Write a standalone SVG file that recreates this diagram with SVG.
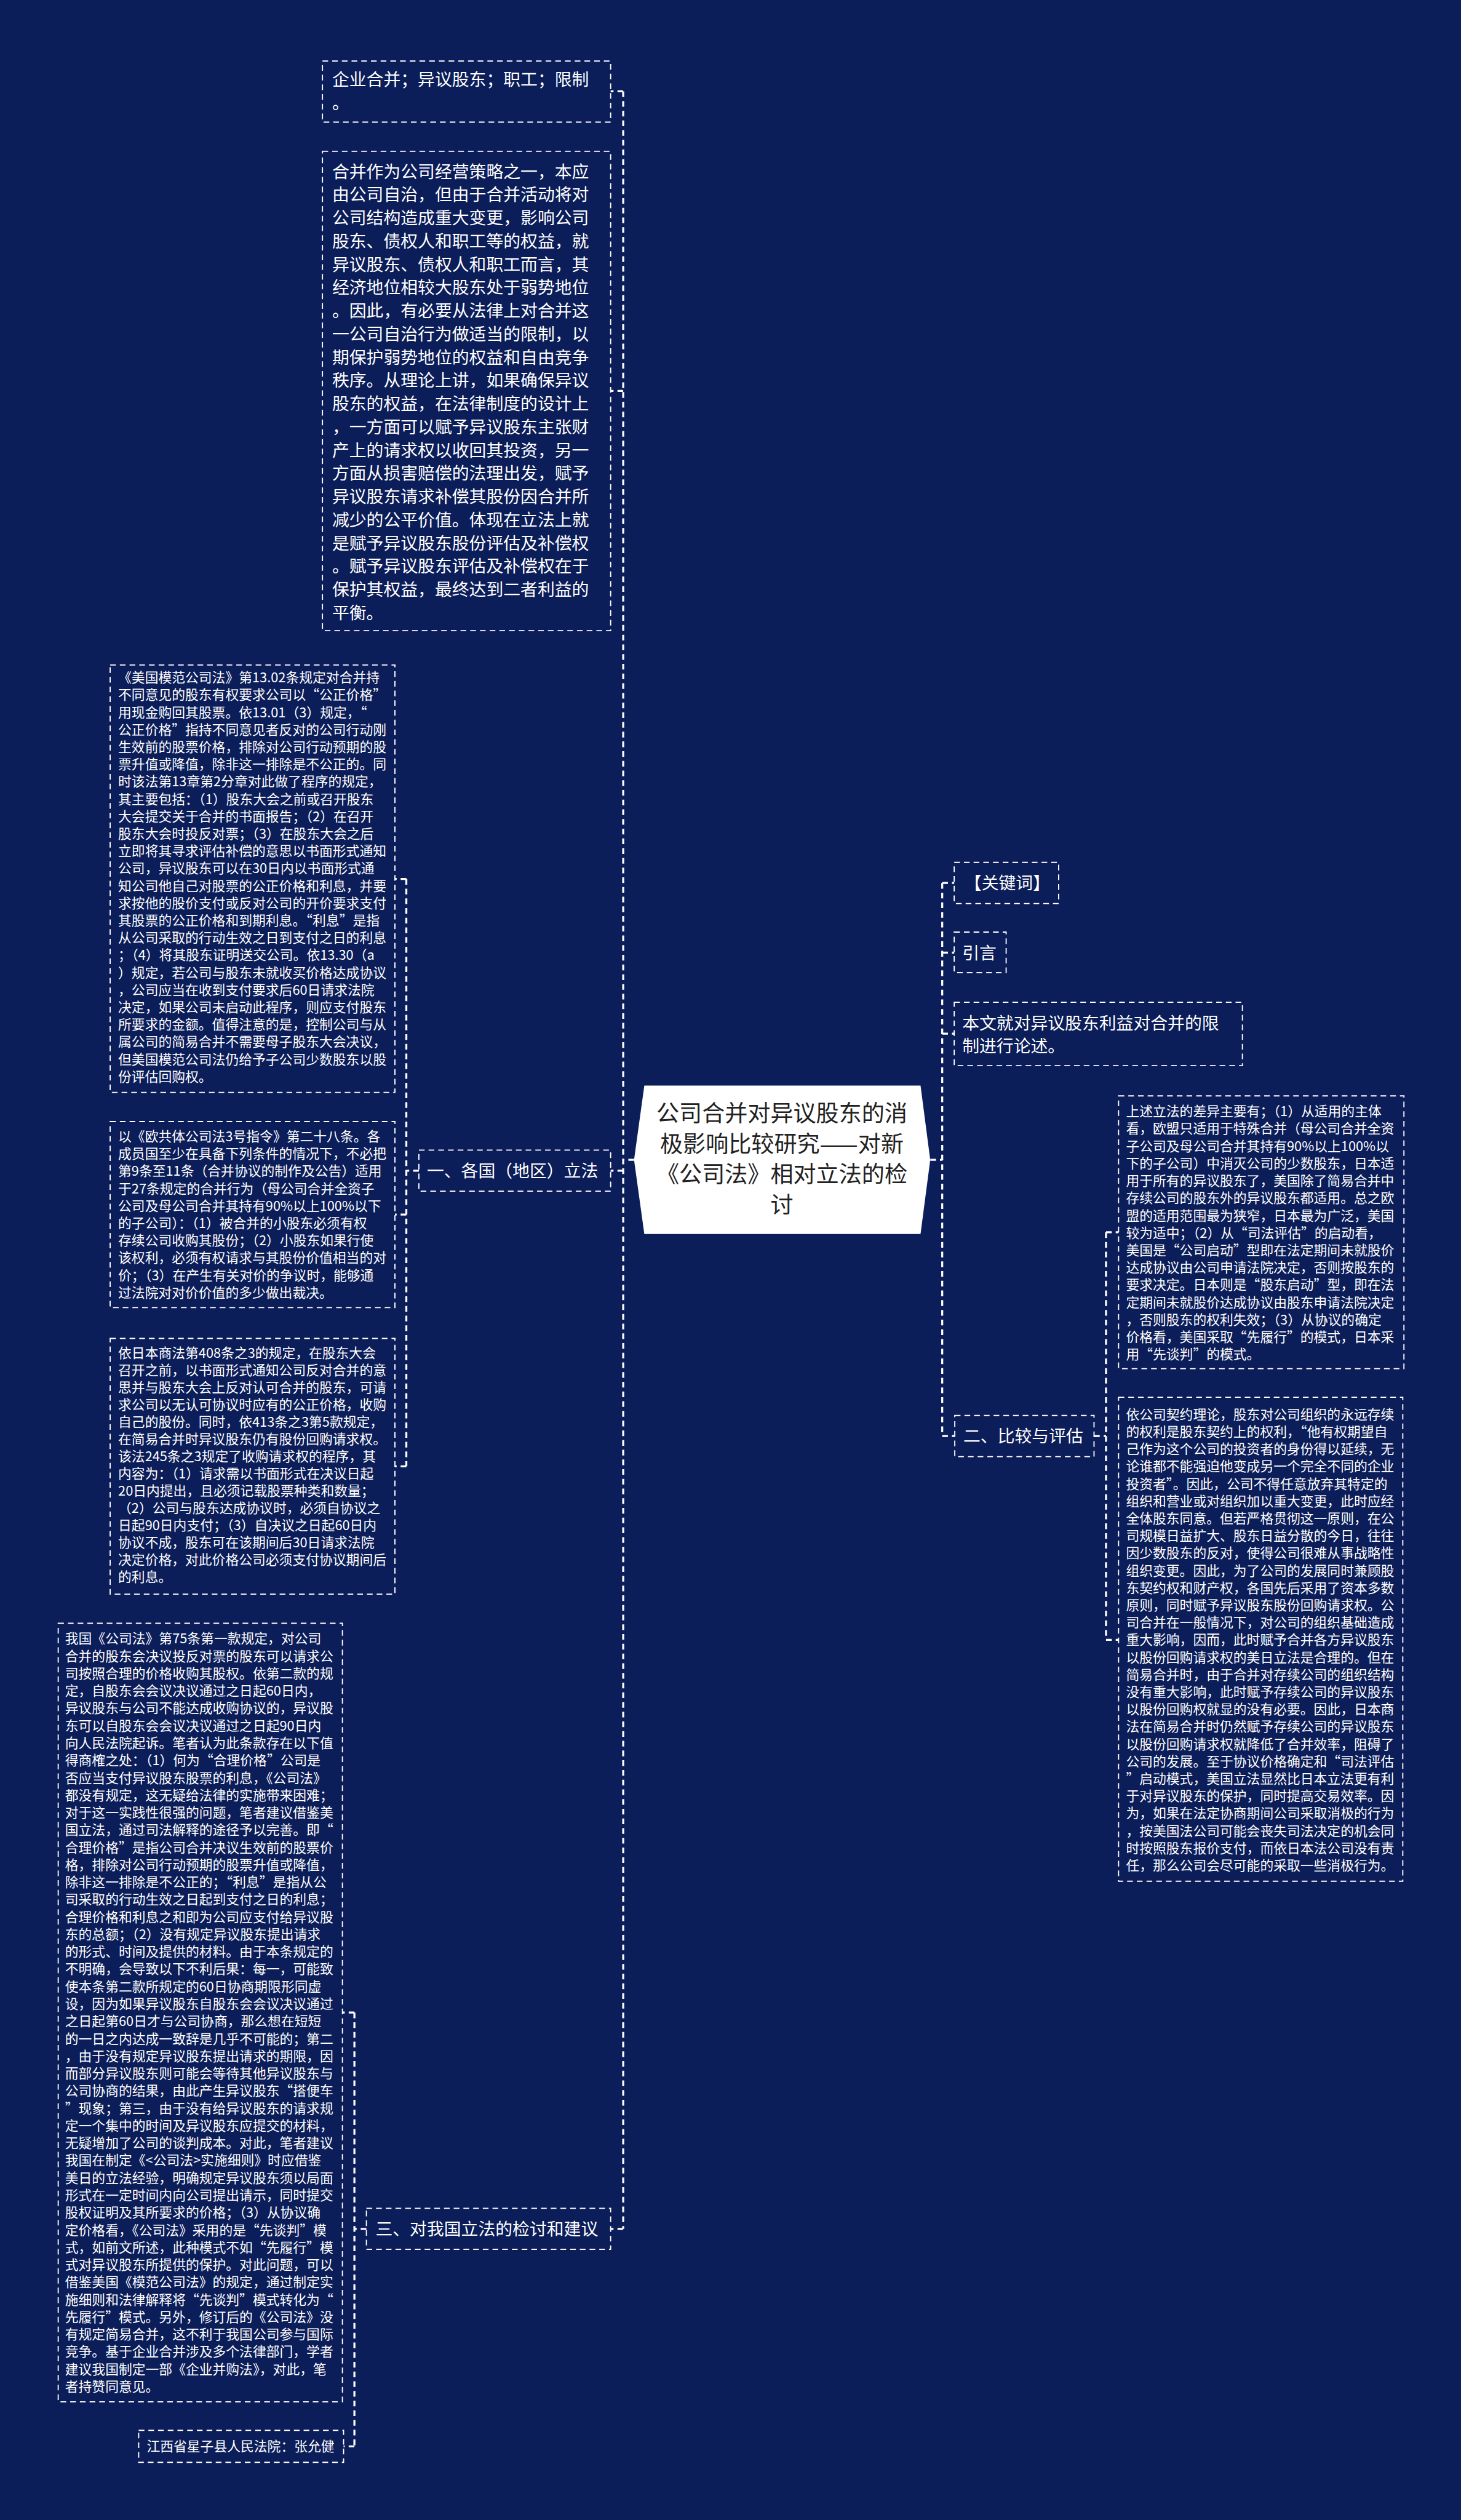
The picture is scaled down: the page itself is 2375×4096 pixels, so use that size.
<svg xmlns="http://www.w3.org/2000/svg" width="2375" height="4096" viewBox="0 0 2375 4096">
<defs>
<style>
.bx{fill:none;stroke:#ffffff;stroke-width:2;stroke-dasharray:10 7}
.ln{fill:none;stroke:#ffffff;stroke-width:3.5;stroke-dasharray:10 7}
.t{font-family:"Noto Sans CJK SC","Noto Sans",sans-serif;fill:#ffffff}
.t30{font-size:30px}
.t23{font-size:23.5px}
.tc{font-family:"Noto Sans CJK SC","Noto Sans",sans-serif;font-size:40px;fill:#222222;text-anchor:middle}
</style>
</defs>
<rect x="0" y="0" width="2375" height="4096" fill="#0c1e5a"/>
<g transform="scale(0.92773)">
<g id="connectors">
<path class="ln" d="M1111,2032 H1092 M1092,160 V3905 M1092,160 H1070 M1092,685 H1070 M1092,2051 H1070 M1092,3905 H1070"/>
<path class="ln" d="M734,2051 H712 M712,1540 V2569 M712,1540 H692 M712,2128 H692 M712,2569 H692"/>
<path class="ln" d="M642,3905 H621 M621,3526 V4286 M621,3526 H600 M621,4286 H602"/>
<path class="ln" d="M1630,2032 H1651 M1651,1547 V2516 M1651,1547 H1672 M1651,1669 H1672 M1651,1811 H1672 M1651,2516 H1673"/>
<path class="ln" d="M1917,2516 H1938 M1938,2159 V2873 M1938,2159 H1960 M1938,2873 H1960"/>
</g>
<g id="center">
<polygon points="1129,1902 1613,1902 1630,2032 1613,2162 1129,2162 1111,2032" fill="#ffffff"/>
<text class="tc"><tspan x="1370" y="1965">公司合并对异议股东的消</tspan><tspan x="1370" dy="53.6">极影响比较研究——对新</tspan><tspan x="1370" dy="53.6">《公司法》相对立法的检</tspan><tspan x="1370" dy="53.6">讨</tspan></text>
</g>
<g id="kw-content">
<rect class="bx" x="565" y="107" width="505" height="107"/>
<text class="t t30"><tspan x="582" y="150">企业合并；异议股东；职工；限制</tspan><tspan x="582" dy="40.7">。</tspan></text>
</g>
<g id="intro-content">
<rect class="bx" x="565" y="265" width="505" height="840"/>
<text class="t t30"><tspan x="582" y="311">合并作为公司经营策略之一，本应</tspan><tspan x="582" dy="40.7">由公司自治，但由于合并活动将对</tspan><tspan x="582" dy="40.7">公司结构造成重大变更，影响公司</tspan><tspan x="582" dy="40.7">股东、债权人和职工等的权益，就</tspan><tspan x="582" dy="40.7">异议股东、债权人和职工而言，其</tspan><tspan x="582" dy="40.7">经济地位相较大股东处于弱势地位</tspan><tspan x="582" dy="40.7">。因此，有必要从法律上对合并这</tspan><tspan x="582" dy="40.7">一公司自治行为做适当的限制，以</tspan><tspan x="582" dy="40.7">期保护弱势地位的权益和自由竞争</tspan><tspan x="582" dy="40.7">秩序。从理论上讲，如果确保异议</tspan><tspan x="582" dy="40.7">股东的权益，在法律制度的设计上</tspan><tspan x="582" dy="40.7">，一方面可以赋予异议股东主张财</tspan><tspan x="582" dy="40.7">产上的请求权以收回其投资，另一</tspan><tspan x="582" dy="40.7">方面从损害赔偿的法理出发，赋予</tspan><tspan x="582" dy="40.7">异议股东请求补偿其股份因合并所</tspan><tspan x="582" dy="40.7">减少的公平价值。体现在立法上就</tspan><tspan x="582" dy="40.7">是赋予异议股东股份评估及补偿权</tspan><tspan x="582" dy="40.7">。赋予异议股东评估及补偿权在于</tspan><tspan x="582" dy="40.7">保护其权益，最终达到二者利益的</tspan><tspan x="582" dy="40.7">平衡。</tspan></text>
</g>
<g id="branch1">
<rect class="bx" x="734" y="2015" width="336" height="72"/>
<text class="t t30" x="748" y="2062">一、各国（地区）立法</text>
</g>
<g id="us-law">
<rect class="bx" x="193" y="1165" width="499" height="749"/>
<text class="t t23"><tspan x="207" y="1195.5">《美国模范公司法》第13.02条规定对合并持</tspan><tspan x="207" dy="30.4">不同意见的股东有权要求公司以“公正价格”</tspan><tspan x="207" dy="30.4">用现金购回其股票。依13.01（3）规定，“</tspan><tspan x="207" dy="30.4">公正价格”指持不同意见者反对的公司行动刚</tspan><tspan x="207" dy="30.4">生效前的股票价格，排除对公司行动预期的股</tspan><tspan x="207" dy="30.4">票升值或降值，除非这一排除是不公正的。同</tspan><tspan x="207" dy="30.4">时该法第13章第2分章对此做了程序的规定，</tspan><tspan x="207" dy="30.4">其主要包括：（1）股东大会之前或召开股东</tspan><tspan x="207" dy="30.4">大会提交关于合并的书面报告；（2）在召开</tspan><tspan x="207" dy="30.4">股东大会时投反对票；（3）在股东大会之后</tspan><tspan x="207" dy="30.4">立即将其寻求评估补偿的意思以书面形式通知</tspan><tspan x="207" dy="30.4">公司，异议股东可以在30日内以书面形式通</tspan><tspan x="207" dy="30.4">知公司他自己对股票的公正价格和利息，并要</tspan><tspan x="207" dy="30.4">求按他的股价支付或反对公司的开价要求支付</tspan><tspan x="207" dy="30.4">其股票的公正价格和到期利息。“利息”是指</tspan><tspan x="207" dy="30.4">从公司采取的行动生效之日到支付之日的利息</tspan><tspan x="207" dy="30.4">；（4）将其股东证明送交公司。依13.30（a</tspan><tspan x="207" dy="30.4">）规定，若公司与股东未就收买价格达成协议</tspan><tspan x="207" dy="30.4">，公司应当在收到支付要求后60日请求法院</tspan><tspan x="207" dy="30.4">决定，如果公司未启动此程序，则应支付股东</tspan><tspan x="207" dy="30.4">所要求的金额。值得注意的是，控制公司与从</tspan><tspan x="207" dy="30.4">属公司的简易合并不需要母子股东大会决议，</tspan><tspan x="207" dy="30.4">但美国模范公司法仍给予子公司少数股东以股</tspan><tspan x="207" dy="30.4">份评估回购权。</tspan></text>
</g>
<g id="eu-law">
<rect class="bx" x="193" y="1965" width="499" height="326"/>
<text class="t t23"><tspan x="207" y="1999.5">以《欧共体公司法3号指令》第二十八条。各</tspan><tspan x="207" dy="30.4">成员国至少在具备下列条件的情况下，不必把</tspan><tspan x="207" dy="30.4">第9条至11条（合并协议的制作及公告）适用</tspan><tspan x="207" dy="30.4">于27条规定的合并行为（母公司合并全资子</tspan><tspan x="207" dy="30.4">公司及母公司合并其持有90%以上100%以下</tspan><tspan x="207" dy="30.4">的子公司）：（1）被合并的小股东必须有权</tspan><tspan x="207" dy="30.4">存续公司收购其股份；（2）小股东如果行使</tspan><tspan x="207" dy="30.4">该权利，必须有权请求与其股份价值相当的对</tspan><tspan x="207" dy="30.4">价；（3）在产生有关对价的争议时，能够通</tspan><tspan x="207" dy="30.4">过法院对对价价值的多少做出裁决。</tspan></text>
</g>
<g id="jp-law">
<rect class="bx" x="193" y="2345" width="499" height="448"/>
<text class="t t23"><tspan x="207" y="2378.5">依日本商法第408条之3的规定，在股东大会</tspan><tspan x="207" dy="30.2">召开之前，以书面形式通知公司反对合并的意</tspan><tspan x="207" dy="30.2">思并与股东大会上反对认可合并的股东，可请</tspan><tspan x="207" dy="30.2">求公司以无认可协议时应有的公正价格，收购</tspan><tspan x="207" dy="30.2">自己的股份。同时，依413条之3第5款规定，</tspan><tspan x="207" dy="30.2">在简易合并时异议股东仍有股份回购请求权。</tspan><tspan x="207" dy="30.2">该法245条之3规定了收购请求权的程序，其</tspan><tspan x="207" dy="30.2">内容为：（1）请求需以书面形式在决议日起</tspan><tspan x="207" dy="30.2">20日内提出，且必须记载股票种类和数量；</tspan><tspan x="207" dy="30.2">（2）公司与股东达成协议时，必须自协议之</tspan><tspan x="207" dy="30.2">日起90日内支付；（3）自决议之日起60日内</tspan><tspan x="207" dy="30.2">协议不成，股东可在该期间后30日请求法院</tspan><tspan x="207" dy="30.2">决定价格，对此价格公司必须支付协议期间后</tspan><tspan x="207" dy="30.2">的利息。</tspan></text>
</g>
<g id="branch3">
<rect class="bx" x="642" y="3869" width="428" height="72"/>
<text class="t t30" x="658" y="3916">三、对我国立法的检讨和建议</text>
</g>
<g id="cn-law">
<rect class="bx" x="102" y="2844" width="498" height="1364"/>
<text class="t t23"><tspan x="114" y="2879.5">我国《公司法》第75条第一款规定，对公司</tspan><tspan x="114" dy="30.47">合并的股东会决议投反对票的股东可以请求公</tspan><tspan x="114" dy="30.47">司按照合理的价格收购其股权。依第二款的规</tspan><tspan x="114" dy="30.47">定，自股东会会议决议通过之日起60日内，</tspan><tspan x="114" dy="30.47">异议股东与公司不能达成收购协议的，异议股</tspan><tspan x="114" dy="30.47">东可以自股东会会议决议通过之日起90日内</tspan><tspan x="114" dy="30.47">向人民法院起诉。笔者认为此条款存在以下值</tspan><tspan x="114" dy="30.47">得商榷之处：（1）何为“合理价格”公司是</tspan><tspan x="114" dy="30.47">否应当支付异议股东股票的利息，《公司法》</tspan><tspan x="114" dy="30.47">都没有规定，这无疑给法律的实施带来困难；</tspan><tspan x="114" dy="30.47">对于这一实践性很强的问题，笔者建议借鉴美</tspan><tspan x="114" dy="30.47">国立法，通过司法解释的途径予以完善。即“</tspan><tspan x="114" dy="30.47">合理价格”是指公司合并决议生效前的股票价</tspan><tspan x="114" dy="30.47">格，排除对公司行动预期的股票升值或降值，</tspan><tspan x="114" dy="30.47">除非这一排除是不公正的；“利息”是指从公</tspan><tspan x="114" dy="30.47">司采取的行动生效之日起到支付之日的利息；</tspan><tspan x="114" dy="30.47">合理价格和利息之和即为公司应支付给异议股</tspan><tspan x="114" dy="30.47">东的总额；（2）没有规定异议股东提出请求</tspan><tspan x="114" dy="30.47">的形式、时间及提供的材料。由于本条规定的</tspan><tspan x="114" dy="30.47">不明确，会导致以下不利后果：每一，可能致</tspan><tspan x="114" dy="30.47">使本条第二款所规定的60日协商期限形同虚</tspan><tspan x="114" dy="30.47">设，因为如果异议股东自股东会会议决议通过</tspan><tspan x="114" dy="30.47">之日起第60日才与公司协商，那么想在短短</tspan><tspan x="114" dy="30.47">的一日之内达成一致辞是几乎不可能的；第二</tspan><tspan x="114" dy="30.47">，由于没有规定异议股东提出请求的期限，因</tspan><tspan x="114" dy="30.47">而部分异议股东则可能会等待其他异议股东与</tspan><tspan x="114" dy="30.47">公司协商的结果，由此产生异议股东“搭便车</tspan><tspan x="114" dy="30.47">”现象；第三，由于没有给异议股东的请求规</tspan><tspan x="114" dy="30.47">定一个集中的时间及异议股东应提交的材料，</tspan><tspan x="114" dy="30.47">无疑增加了公司的谈判成本。对此，笔者建议</tspan><tspan x="114" dy="30.47">我国在制定《&lt;公司法&gt;实施细则》时应借鉴</tspan><tspan x="114" dy="30.47">美日的立法经验，明确规定异议股东须以局面</tspan><tspan x="114" dy="30.47">形式在一定时间内向公司提出请示，同时提交</tspan><tspan x="114" dy="30.47">股权证明及其所要求的价格；（3）从协议确</tspan><tspan x="114" dy="30.47">定价格看，《公司法》采用的是“先谈判”模</tspan><tspan x="114" dy="30.47">式，如前文所述，此种模式不如“先履行”模</tspan><tspan x="114" dy="30.47">式对异议股东所提供的保护。对此问题，可以</tspan><tspan x="114" dy="30.47">借鉴美国《模范公司法》的规定，通过制定实</tspan><tspan x="114" dy="30.47">施细则和法律解释将“先谈判”模式转化为“</tspan><tspan x="114" dy="30.47">先履行”模式。另外，修订后的《公司法》没</tspan><tspan x="114" dy="30.47">有规定简易合并，这不利于我国公司参与国际</tspan><tspan x="114" dy="30.47">竞争。基于企业合并涉及多个法律部门，学者</tspan><tspan x="114" dy="30.47">建议我国制定一部《企业并购法》，对此，笔</tspan><tspan x="114" dy="30.47">者持赞同意见。</tspan></text>
</g>
<g id="author">
<rect class="bx" x="243" y="4258" width="359" height="56"/>
<text class="t t23" x="257" y="4294.5">江西省星子县人民法院：张允健</text>
</g>
<g id="keywords">
<rect class="bx" x="1672" y="1511" width="183" height="72"/>
<text class="t t30" x="1690" y="1558">【关键词】</text>
</g>
<g id="preface">
<rect class="bx" x="1672" y="1633" width="91" height="71"/>
<text class="t t30" x="1686" y="1680">引言</text>
</g>
<g id="summary">
<rect class="bx" x="1672" y="1756" width="505" height="111"/>
<text class="t t30"><tspan x="1686" y="1803">本文就对异议股东利益对合并的限</tspan><tspan x="1686" dy="40.7">制进行论述。</tspan></text>
</g>
<g id="branch2">
<rect class="bx" x="1673" y="2480" width="244" height="72"/>
<text class="t t30" x="1688" y="2527">二、比较与评估</text>
</g>
<g id="diff">
<rect class="bx" x="1960" y="1920" width="500" height="478"/>
<text class="t t23"><tspan x="1973" y="1955.5">上述立法的差异主要有；（1）从适用的主体</tspan><tspan x="1973" dy="30.43">看，欧盟只适用于特殊合并（母公司合并全资</tspan><tspan x="1973" dy="30.43">子公司及母公司合并其持有90%以上100%以</tspan><tspan x="1973" dy="30.43">下的子公司）中消灭公司的少数股东，日本适</tspan><tspan x="1973" dy="30.43">用于所有的异议股东了，美国除了简易合并中</tspan><tspan x="1973" dy="30.43">存续公司的股东外的异议股东都适用。总之欧</tspan><tspan x="1973" dy="30.43">盟的适用范围最为狭窄，日本最为广泛，美国</tspan><tspan x="1973" dy="30.43">较为适中；（2）从“司法评估”的启动看，</tspan><tspan x="1973" dy="30.43">美国是“公司启动”型即在法定期间未就股价</tspan><tspan x="1973" dy="30.43">达成协议由公司申请法院决定，否则按股东的</tspan><tspan x="1973" dy="30.43">要求决定。日本则是“股东启动”型，即在法</tspan><tspan x="1973" dy="30.43">定期间未就股价达成协议由股东申请法院决定</tspan><tspan x="1973" dy="30.43">，否则股东的权利失效；（3）从协议的确定</tspan><tspan x="1973" dy="30.43">价格看，美国采取“先履行”的模式，日本采</tspan><tspan x="1973" dy="30.43">用“先谈判”的模式。</tspan></text>
</g>
<g id="evaluation">
<rect class="bx" x="1960" y="2448" width="498" height="848"/>
<text class="t t23"><tspan x="1973" y="2486.5">依公司契约理论，股东对公司组织的永远存续</tspan><tspan x="1973" dy="30.4">的权利是股东契约上的权利，“他有权期望自</tspan><tspan x="1973" dy="30.4">己作为这个公司的投资者的身份得以延续，无</tspan><tspan x="1973" dy="30.4">论谁都不能强迫他变成另一个完全不同的企业</tspan><tspan x="1973" dy="30.4">投资者”。因此，公司不得任意放弃其特定的</tspan><tspan x="1973" dy="30.4">组织和营业或对组织加以重大变更，此时应经</tspan><tspan x="1973" dy="30.4">全体股东同意。但若严格贯彻这一原则，在公</tspan><tspan x="1973" dy="30.4">司规模日益扩大、股东日益分散的今日，往往</tspan><tspan x="1973" dy="30.4">因少数股东的反对，使得公司很难从事战略性</tspan><tspan x="1973" dy="30.4">组织变更。因此，为了公司的发展同时兼顾股</tspan><tspan x="1973" dy="30.4">东契约权和财产权，各国先后采用了资本多数</tspan><tspan x="1973" dy="30.4">原则，同时赋予异议股东股份回购请求权。公</tspan><tspan x="1973" dy="30.4">司合并在一般情况下，对公司的组织基础造成</tspan><tspan x="1973" dy="30.4">重大影响，因而，此时赋予合并各方异议股东</tspan><tspan x="1973" dy="30.4">以股份回购请求权的美日立法是合理的。但在</tspan><tspan x="1973" dy="30.4">简易合并时，由于合并对存续公司的组织结构</tspan><tspan x="1973" dy="30.4">没有重大影响，此时赋予存续公司的异议股东</tspan><tspan x="1973" dy="30.4">以股份回购权就显的没有必要。因此，日本商</tspan><tspan x="1973" dy="30.4">法在简易合并时仍然赋予存续公司的异议股东</tspan><tspan x="1973" dy="30.4">以股份回购请求权就降低了合并效率，阻碍了</tspan><tspan x="1973" dy="30.4">公司的发展。至于协议价格确定和“司法评估</tspan><tspan x="1973" dy="30.4">”启动模式，美国立法显然比日本立法更有利</tspan><tspan x="1973" dy="30.4">于对异议股东的保护，同时提高交易效率。因</tspan><tspan x="1973" dy="30.4">为，如果在法定协商期间公司采取消极的行为</tspan><tspan x="1973" dy="30.4">，按美国法公司可能会丧失司法决定的机会同</tspan><tspan x="1973" dy="30.4">时按照股东报价支付，而依日本法公司没有责</tspan><tspan x="1973" dy="30.4">任，那么公司会尽可能的采取一些消极行为。</tspan></text>
</g>
</g>
</svg>
